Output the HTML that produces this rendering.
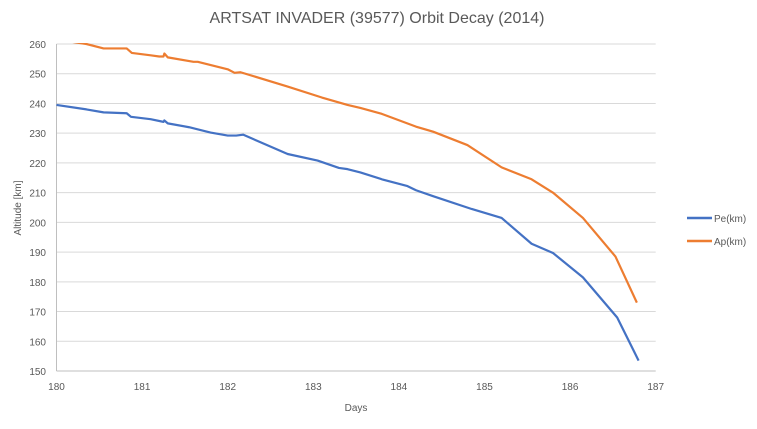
<!DOCTYPE html>
<html><head><meta charset="utf-8"><style>
body{margin:0;background:#fff;font-family:"Liberation Sans",sans-serif}
svg text{font-family:"Liberation Sans",sans-serif}
</style></head><body>
<svg id="chart" width="757" height="424">
<text x="377" y="23" text-anchor="middle" font-size="16" fill="#595959">ARTSAT INVADER (39577) Orbit Decay (2014)</text>
<g id="grid"></g><g id="ticks"></g>
<defs><clipPath id="clip"><rect x="56" y="43" width="600" height="330"/></clipPath></defs>
<g id="series" clip-path="url(#clip)"></g>
<text x="356" y="411" text-anchor="middle" font-size="10" fill="#595959">Days</text>
<text transform="translate(21,208) rotate(-90)" text-anchor="middle" font-size="10" fill="#595959">Altitude [km]</text>
<g>
<line x1="687" y1="218" x2="712" y2="218" stroke="#4472C4" stroke-width="2.5"/>
<text x="714" y="222" font-size="10" fill="#595959">Pe(km)</text>
<line x1="687" y1="241" x2="712" y2="241" stroke="#ED7D31" stroke-width="2.5"/>
<text x="714" y="245" font-size="10" fill="#595959">Ap(km)</text>
</g>
</svg>
<script>
const peDays=[180,180.35,180.55,180.82,180.87,181.1,181.25,181.26,181.3,181.55,181.8,182.0,182.1,182.18,182.7,183.05,183.3,183.4,183.55,183.8,184.1,184.2,184.4,184.85,185.2,185.55,185.8,186.15,186.55,186.8];
const peValues=[239.5,238,237,236.7,235.5,234.7,233.8,234.3,233.3,232,230.2,229.2,229.2,229.5,223,220.8,218.3,217.9,216.8,214.5,212.2,210.8,208.8,204.5,201.5,192.8,189.7,181.5,168,153.5];
const apDays=[180,180.35,180.55,180.82,180.88,181.1,181.2,181.25,181.26,181.3,181.6,181.65,182.0,182.08,182.15,182.7,183.1,183.4,183.55,183.8,184.2,184.4,184.8,185.2,185.55,185.8,186.15,186.53,186.78];
const apValues=[261.5,260,258.5,258.5,257,256.2,255.8,255.8,256.8,255.5,254,254,251.5,250.3,250.5,245.7,242,239.5,238.5,236.5,232.2,230.5,226,218.5,214.5,210,201.5,188.5,173];
const xTicks=[180,181,182,183,184,185,186,187];
const yTicks=[150,160,170,180,190,200,210,220,230,240,250,260];
const NS="http://www.w3.org/2000/svg";
const X=d=>56.5+(d-180)*(655.7-56.5)/7;
const Y=v=>371-(v-150)*(371-44)/110;
const grid=document.getElementById('grid'),ticks=document.getElementById('ticks'),series=document.getElementById('series');
yTicks.forEach(v=>{
 const l=document.createElementNS(NS,'line');
 
 
 l.setAttribute('x1',56.5);l.setAttribute('x2',655.7);l.setAttribute('y1',Y(v));l.setAttribute('y2',Y(v));
 l.setAttribute('stroke',v===150?'#bfbfbf':'#d9d9d9');l.setAttribute('stroke-width',1);
 grid.appendChild(l);
 const t=document.createElementNS(NS,'text');
 
 
 t.setAttribute('x',46);t.setAttribute('y',Y(v)+4);t.setAttribute('text-anchor','end');t.setAttribute('font-size','10');t.setAttribute('fill','#595959');
 t.textContent=v;ticks.appendChild(t);
});
const ax=document.createElementNS(NS,'line');


ax.setAttribute('x1',56.5);ax.setAttribute('x2',56.5);ax.setAttribute('y1',Y(260));ax.setAttribute('y2',Y(150));ax.setAttribute('stroke','#bfbfbf');
grid.appendChild(ax);
xTicks.forEach(d=>{
 const t=document.createElementNS(NS,'text');
 
 
 t.setAttribute('x',X(d));t.setAttribute('y',390);t.setAttribute('text-anchor','middle');t.setAttribute('font-size','10');t.setAttribute('fill','#595959');
 t.textContent=d;ticks.appendChild(t);
});
function line(days,vals,color,name){
 const p=document.createElementNS(NS,'polyline');
 
 
 p.setAttribute('points',days.map((d,i)=>X(d)+','+Y(vals[i])).join(' '));
 p.setAttribute('fill','none');p.setAttribute('stroke',color);p.setAttribute('stroke-width',2.2);p.setAttribute('stroke-linejoin','round');
 series.appendChild(p);
}
line(peDays,peValues,'#4472C4','pe-line');
line(apDays,apValues,'#ED7D31','ap-line');
</script>
</body></html>
